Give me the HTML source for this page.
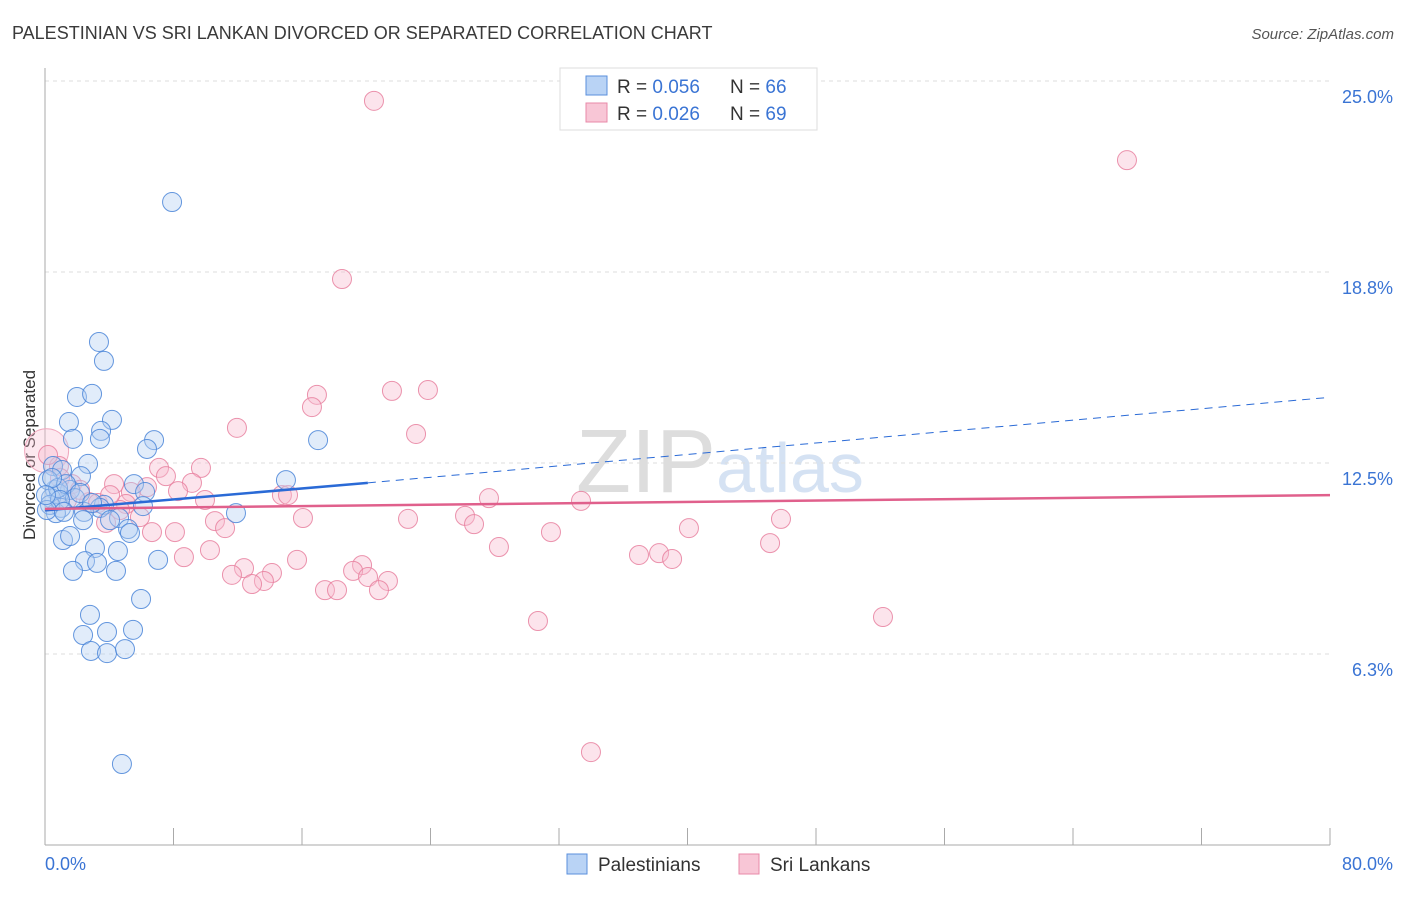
<!DOCTYPE html>
<html><head><meta charset="utf-8"><style>
body{margin:0;background:#fff;font-family:"Liberation Sans",sans-serif;}
svg text{font-family:"Liberation Sans",sans-serif;}
</style></head><body>
<svg id="chart" width="1406" height="892">
<text x="12" y="39" font-size="18" fill="#3a3a3a">PALESTINIAN VS SRI LANKAN DIVORCED OR SEPARATED CORRELATION CHART</text>
<text x="1394" y="39" font-size="15" fill="#555" font-style="italic" text-anchor="end">Source: ZipAtlas.com</text>
<text x="35" y="455" font-size="17" fill="#333" text-anchor="middle" transform="rotate(-90 35 455)">Divorced or Separated</text>
<text x="720" y="492" font-size="90" fill="#ddd" text-anchor="middle" font-family="Liberation Serif">ZIP<tspan fill="#d5e2f3" font-family="Liberation Sans" font-size="70">atlas</tspan></text>
<g id="grid"></g><g id="axes"></g><g id="pts"></g><g id="trend"></g>
<g>
<rect x="560" y="68" width="257" height="62" fill="#fff" stroke="#ddd"/>
<rect x="586" y="76" width="21" height="19" fill="#b9d3f5" stroke="#5a8fdc"/>
<rect x="586" y="103" width="21" height="19" fill="#f8c6d6" stroke="#e889a8"/>
<text x="617" y="93" font-size="19" fill="#333">R = <tspan fill="#3a74d4">0.056</tspan></text>
<text x="730" y="93" font-size="19" fill="#333">N = <tspan fill="#3a74d4">66</tspan></text>
<text x="617" y="120" font-size="19" fill="#333">R = <tspan fill="#3a74d4">0.026</tspan></text>
<text x="730" y="120" font-size="19" fill="#333">N = <tspan fill="#3a74d4">69</tspan></text>
</g>
<g>
<rect x="567" y="854" width="20" height="20" fill="#b9d3f5" stroke="#5a8fdc"/>
<text x="598" y="871" font-size="19" fill="#333">Palestinians</text>
<rect x="739" y="854" width="20" height="20" fill="#f8c6d6" stroke="#e889a8"/>
<text x="770" y="871" font-size="19" fill="#333">Sri Lankans</text>
</g>
</svg>
<script>
const yTicks=[6.25,12.5,18.75,25];
const yTickLabels=["6.3%","12.5%","18.8%","25.0%"];
const xTickLabels=["0.0%","80.0%"];
const bluePx=[[172,202],[99,342],[104,361],[77,397],[92,394],[69,422],[112,420],[101,431],[100,439],[154,440],[73,439],[318,440],[88,464],[53,466],[62,470],[81,476],[286,480],[134,484],[55,490],[70,490],[145,492],[59,494],[51,498],[104,505],[143,506],[100,508],[61,508],[84,512],[236,513],[56,513],[119,518],[83,520],[128,529],[130,533],[63,540],[70,536],[95,548],[118,551],[158,560],[85,561],[97,563],[73,571],[116,571],[141,599],[90,615],[83,635],[107,632],[133,630],[91,651],[107,653],[125,649],[122,764],[48,480],[50,505],[58,488],[66,484],[75,498],[60,500],[47,510],[52,478],[147,449],[80,493],[92,503],[110,520],[46,495],[64,512]];
const pinkPx=[[374,101],[1127,160],[342,279],[392,391],[428,390],[317,395],[312,407],[237,428],[416,434],[59,466],[159,468],[201,468],[166,476],[114,484],[147,487],[192,483],[131,492],[178,491],[282,495],[288,495],[489,498],[581,501],[205,500],[67,500],[89,502],[98,503],[126,504],[140,517],[215,521],[303,518],[408,519],[465,516],[474,524],[781,519],[551,532],[689,528],[152,532],[175,532],[225,528],[106,523],[499,547],[210,550],[184,557],[770,543],[639,555],[659,553],[672,559],[297,560],[244,568],[232,575],[272,573],[362,565],[353,571],[368,577],[388,581],[264,581],[252,584],[325,590],[337,590],[379,590],[538,621],[883,617],[591,752],[72,484],[80,490],[60,478],[120,510],[48,455],[110,495]];
const blueX=bluePx.map(p=>+((p[0]-45)/1285*80).toFixed(2));
const blueY=bluePx.map(p=>+((845-p[1])/30.56).toFixed(2));
const pinkX=pinkPx.map(p=>+((p[0]-45)/1285*80).toFixed(2));
const pinkY=pinkPx.map(p=>+((845-p[1])/30.56).toFixed(2));
const bigPinkX=[0.1], bigPinkY=[12.9];
const blueTrend=[[0,10.95],[20.1,11.85],[80,14.65]];
const pinkTrend=[[0,11.0],[80,11.45]];

const NS="http://www.w3.org/2000/svg";
const X=v=>45+v/80*1285, Y=v=>845-v*30.56;
function mk(tag,attrs,parent){const e=document.createElementNS(NS,tag);for(const k in attrs)e.setAttribute(k,attrs[k]);document.getElementById(parent).appendChild(e);return e;}
yTicks.forEach((t,i)=>{
 const l=mk('line',{x1:45,x2:1330,y1:Y(t),y2:Y(t),stroke:'#ddd','stroke-dasharray':'4,4'},'grid');
 
 
 const tx=mk('text',{x:1393,y:Y(t)+22,'font-size':18,fill:'#3a74d4','text-anchor':'end'},'grid');
 tx.textContent=yTickLabels[i];
 
 
});
let ax=mk('line',{x1:45,x2:45,y1:68,y2:845,stroke:'#aaa'},'axes');


ax=mk('line',{x1:45,x2:1330,y1:845,y2:845,stroke:'#aaa'},'axes');


for(let i=0;i<=10;i++){const t=mk('line',{x1:45+i*128.5,x2:45+i*128.5,y1:828,y2:845,stroke:'#aaa'},'axes');
 
 }
[[0,45,'start'],[80,1393,'end']].forEach((d,i)=>{const t=mk('text',{x:d[1],y:870,'font-size':18,fill:'#3a74d4','text-anchor':d[2]},'axes');t.textContent=xTickLabels[i];
 
 });
bigPinkX.forEach((x,i)=>{const c=mk('circle',{cx:X(x),cy:Y(bigPinkY[i]),r:22,fill:'#f8bcd0','fill-opacity':0.35,stroke:'#f0a8be','stroke-width':1},'pts');
 
 });
function dots(xs,ys,fill,stroke,name){xs.forEach((x,i)=>{const c=mk('circle',{cx:X(x),cy:Y(ys[i]),r:9.5,fill:fill,'fill-opacity':0.4,stroke:stroke,'stroke-width':1,'stroke-opacity':0.85},'pts');
 
 });}
dots(pinkX,pinkY,'#f8bcd0','#e8809f','point-sri-lankan');
dots(blueX,blueY,'#b3cff2','#4a85d8','point-palestinian');
let tl=mk('line',{x1:X(blueTrend[0][0]),y1:Y(blueTrend[0][1]),x2:X(blueTrend[1][0]),y2:Y(blueTrend[1][1]),stroke:'#2a6ad6','stroke-width':2.5},'trend');


tl=mk('line',{x1:X(blueTrend[1][0]),y1:Y(blueTrend[1][1]),x2:X(blueTrend[2][0]),y2:Y(blueTrend[2][1]),stroke:'#2a6ad6','stroke-width':1,'stroke-dasharray':'8,6'},'trend');


tl=mk('line',{x1:X(pinkTrend[0][0]),y1:Y(pinkTrend[0][1]),x2:X(pinkTrend[1][0]),y2:Y(pinkTrend[1][1]),stroke:'#e0608c','stroke-width':2.5},'trend');


</script>
</body></html>
